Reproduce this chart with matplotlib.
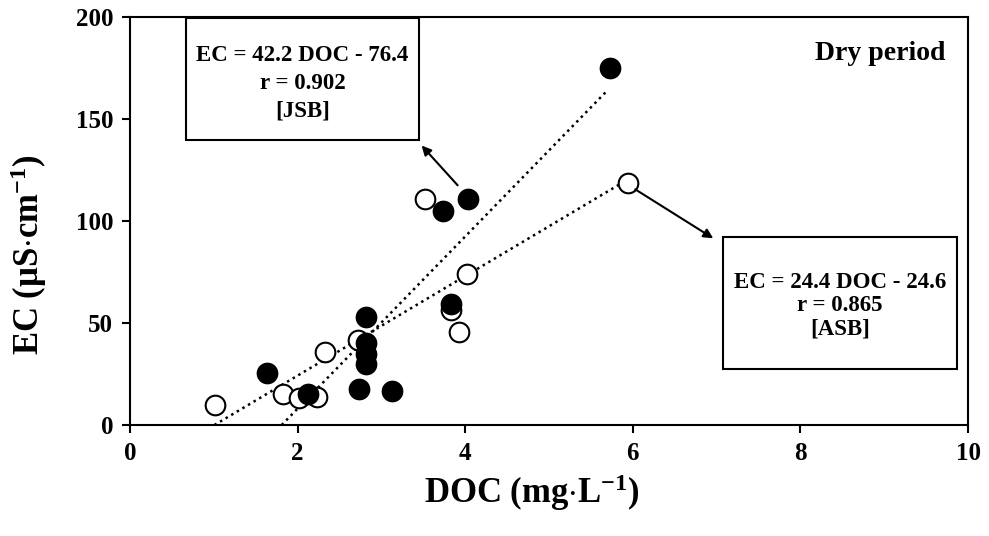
import numpy as np
import matplotlib
matplotlib.use("Agg")
import matplotlib.pyplot as plt
from matplotlib.patches import Rectangle

plt.rcParams['font.family'] = ['Liberation Serif', 'DejaVu Serif']
plt.rcParams['font.weight'] = 'bold'
plt.rcParams['axes.labelweight'] = 'bold'
plt.rcParams['mathtext.fontset'] = 'custom'
plt.rcParams['mathtext.rm'] = 'Liberation Serif:bold'
plt.rcParams['mathtext.it'] = 'Liberation Serif:bold'
plt.rcParams['mathtext.bf'] = 'Liberation Serif:bold'
plt.rcParams['mathtext.default'] = 'rm'

# JSB samples (filled)
jsb_doc = [1.63, 2.12, 2.73, 3.13, 2.82, 2.82, 2.82, 2.82, 3.83, 3.73, 4.03, 5.73]
jsb_ec = [25.5, 15.2, 17.6, 16.7, 53.0, 40.0, 35.0, 30.0, 59.3, 105.0, 111.0, 175.0]

# ASB samples (open)
asb_doc = [1.01, 1.83, 2.02, 2.23, 2.33, 2.72, 3.83, 3.93, 4.02, 3.52, 5.94]
asb_ec = [9.8, 15.2, 13.2, 13.7, 36.0, 41.7, 56.4, 45.6, 74.0, 111.0, 118.6]

# regression fits: EC = slope * DOC + intercept
jsb_fit = (42.2, -76.4, 0.902)
asb_fit = (24.4, -24.6, 0.865)

fig = plt.figure(figsize=(9.89, 5.36), dpi=100)
ax = fig.add_axes([0.1314, 0.2071, 0.8474, 0.7612])


def fit_line(slope, icpt, xmax):
    x = np.linspace(-icpt / slope, xmax, 50)
    return x, slope * x + icpt


x, y = fit_line(jsb_fit[0], jsb_fit[1], max(jsb_doc) - 0.03)
ax.plot(x, y, color='black', ls=(0, (1, 1.6)), lw=1.8, zorder=2)
x, y = fit_line(asb_fit[0], asb_fit[1], max(asb_doc) - 0.04)
ax.plot(x, y, color='black', ls=(0, (1, 1.6)), lw=1.8, zorder=2)

ax.scatter(asb_doc, asb_ec, s=200, facecolor='white', edgecolor='black',
           linewidth=1.5, zorder=3)
ax.scatter(jsb_doc, jsb_ec, s=200, facecolor='black', edgecolor='black',
           linewidth=1.5, zorder=4)

ax.set_xlim(0, 10)
ax.set_ylim(0, 200)
ax.set_xticks([0, 2, 4, 6, 8, 10])
ax.set_yticks([0, 50, 100, 150, 200])
ax.tick_params(direction='out', length=6, width=1.5, labelsize=18, pad=6)
for sp in ax.spines.values():
    sp.set_linewidth(1.5)

ax.set_xlabel(r'DOC (mg$\cdot$L$^{-1}$)', fontsize=25)
ax.set_ylabel(r'EC ($\mu$S$\cdot$cm$^{-1}$)', fontsize=25)
ax.xaxis.set_label_coords(0.479, -0.115)
ax.yaxis.set_label_coords(-0.097, 0.417)

ax.text(9.73, 182, 'Dry period', fontsize=20, ha='right', va='center')


def eq_box(x0, y0, x1, y1, fit, tag, top, step):
    ax.add_patch(Rectangle((x0, y0), x1 - x0, y1 - y0, facecolor='white',
                           edgecolor='black', lw=1.5, zorder=5, clip_on=False))
    xc = (x0 + x1) / 2
    h = y1 - y0
    lines = ['EC = %.1f DOC - %.1f' % (fit[0], -fit[1]),
             'r = %.3f' % fit[2], '[%s]' % tag]
    for i, s in enumerate(lines):
        ax.text(xc, y1 - h * (top + step * i), s, fontsize=16.5,
                ha='center', va='center', zorder=6)


eq_box(0.67, 139.5, 3.45, 199.5, jsb_fit, 'JSB', 0.31, 0.225)
eq_box(7.08, 27.5, 9.87, 92.0, asb_fit, 'ASB', 0.34, 0.18)

arrow = dict(arrowstyle='-|>', color='black', lw=1.5, mutation_scale=14,
             shrinkA=0, shrinkB=0)
ax.annotate('', xy=(3.48, 137), xytext=(3.91, 117.5), arrowprops=arrow,
            zorder=6)
ax.annotate('', xy=(6.96, 91.5), xytext=(6.03, 115.5), arrowprops=arrow,
            zorder=6)

fig.savefig('out.png', dpi=100)
